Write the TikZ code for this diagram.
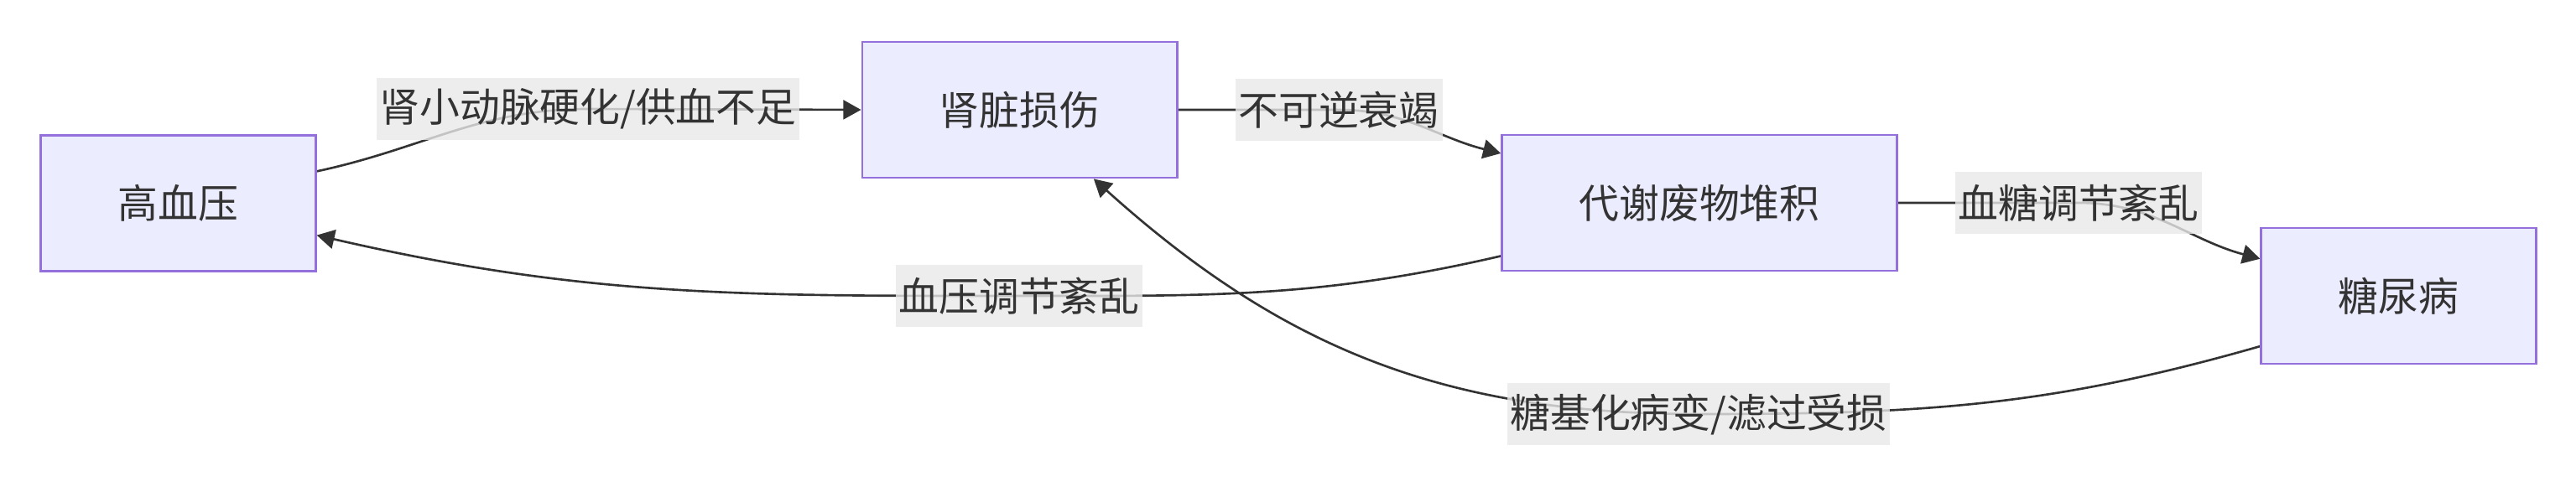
\documentclass[tikz,border=0pt]{standalone}
\usepackage{fontspec}
\newfontfamily\cjk{Noto Sans CJK SC}
\usepackage{xcolor}
\usetikzlibrary{arrows.meta,backgrounds}
\definecolor{boxfill}{HTML}{ECECFF}
\definecolor{boxline}{HTML}{9370DB}
\definecolor{ink}{HTML}{333333}
\definecolor{lblfill}{HTML}{E8E8E8}

\begin{document}
\begin{tikzpicture}[
    font=\cjk\fontsize{13.6pt}{16pt}\selectfont,
    box/.style={draw=boxline, fill=boxfill, line width=0.8pt, text=ink,
        inner xsep=0.92cm, minimum height=1.62cm},
    lbl/.style={fill=lblfill, fill opacity=0.8, text opacity=1, text=ink,
        inner xsep=0.04cm, inner ysep=0pt, minimum height=0.74cm},
    edge/.style={draw=ink, line width=0.75pt, -{Triangle[length=6pt,width=6.5pt]}}
]
    \useasboundingbox (0,0) rectangle (30.71,5.80);

    % Boxes
    \node[box] (hbp) at (2.125, 3.375) {高血压};
    \node[box] (kid) at (12.155, 4.49) {肾脏损伤};
    \node[box] (met) at (20.26, 3.38) {代谢废物堆积};
    \node[box] (dm) at (28.595, 2.27) {糖尿病};

    % Edge labels
    \node[lbl] (l1) at (7.01, 4.50) {肾小动脉硬化/供血不足};
    \node[lbl] (l2) at (15.96, 4.49) {不可逆衰竭};
    \node[lbl] (l3) at (24.78, 3.38) {血糖调节紊乱};
    \node[lbl] (l4) at (12.15, 2.27) {血压调节紊乱};
    \node[lbl] (l5) at (20.25, 0.86) {糖基化病变/滤过受损};

    % Edges (behind the labels)
    \begin{scope}[on background layer]
        \draw[edge] (hbp.13) to[out=12, in=180] (l1.center) -- (kid.west);
        \draw[edge] (kid.east) -- (l2.center) to[out=0, in=166] (met.166);
        \draw[edge] (met.east) -- (l3.center) to[out=0, in=165] (dm.165);
        \draw[edge] (met.195) to[out=193, in=0] (l4.center) to[out=180, in=-13] (hbp.-13);
        \draw[edge] (dm.200) to[out=196, in=0] (l5.center) to[out=180, in=-42] (kid.-43.5);
    \end{scope}

\end{tikzpicture}
\end{document}
